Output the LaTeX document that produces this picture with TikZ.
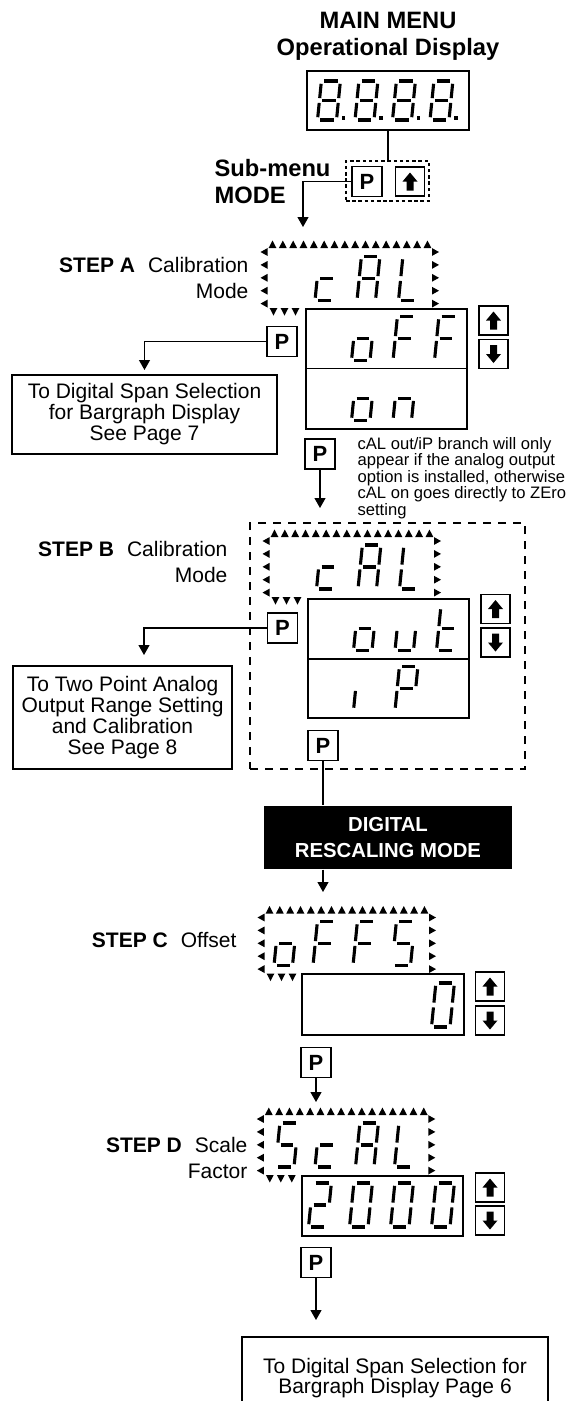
\documentclass[tikz,border=0pt]{standalone}
\usepackage{fontspec}
\setmainfont{Liberation Sans}
\usetikzlibrary{arrows.meta}
\newcommand{\sH}{44}
\newcommand{\sW}{18.5}
\newcommand{\Sega}{\draw[segl] (2.8,-\sH) -- (\sW-2.8,-\sH);}
\newcommand{\Segb}{\draw[segl] (\sW,-\sH+2.8) -- (\sW,-\sH/2-2.4);}
\newcommand{\Segc}{\draw[segl] (\sW,-\sH/2+2.4) -- (\sW,-2.8);}
\newcommand{\Segd}{\draw[segl] (2.8,0) -- (\sW-2.8,0);}
\newcommand{\Sege}{\draw[segl] (0,-\sH/2+2.4) -- (0,-2.8);}
\newcommand{\Segf}{\draw[segl] (0,-\sH+2.8) -- (0,-\sH/2-2.4);}
\newcommand{\Segg}{\draw[segl] (2.8,-\sH/2) -- (\sW-2.8,-\sH/2);}
\newcommand{\ssd}[3]{\begin{scope}[shift={(#1,#2)},xslant=0.1]\foreach \s in {#3}{\csname Seg\s\endcsname}\end{scope}}
\newcommand{\flashbox}[2]{%
 \foreach \i in {0,...,15}{\fill ({#1+4.5+10.33*\i-3.9},{#2+0.5}) -- ({#1+4.5+10.33*\i+3.9},{#2+0.5}) -- ({#1+4.5+10.33*\i},{#2-7}) -- cycle;}
 \foreach \j in {0,...,4}{\fill ({#1-0.5},{#2+4.5+12.9*\j-3.9}) -- ({#1-0.5},{#2+4.5+12.9*\j+3.9}) -- ({#1-7.5},{#2+4.5+12.9*\j}) -- cycle;
   \fill ({#1+164},{#2+4.5+12.9*\j-3.9}) -- ({#1+164},{#2+4.5+12.9*\j+3.9}) -- ({#1+171},{#2+4.5+12.9*\j}) -- cycle;}
 \foreach \k in {0,1,2}{\fill ({#1+5.5+11*\k-3.9},{#2+60.5}) -- ({#1+5.5+11*\k+3.9},{#2+60.5}) -- ({#1+5.5+11*\k},{#2+68}) -- cycle;}
}
\newcommand{\dpt}[2]{\fill ({#1-1.8},{#2-1.8}) rectangle ({#1+1.8},{#2+1.8});}
\begin{document}
\begin{tikzpicture}[x=1pt,y=-1pt,line width=1.2pt,
 box/.style={draw,rectangle,inner sep=0pt,line width=1.2pt},
 dbox/.style={box,dash pattern=on 3.5pt off 2.7pt},
 dbox2/.style={box,dash pattern=on 8pt off 7pt},
 pbtn/.style={box,minimum width=30pt,minimum height=30pt,font=\fontsize{22}{22}\selectfont\bfseries},
 upbtn/.style={box,minimum width=29pt,minimum height=29pt,path picture={\begin{scope}[shift={(path picture bounding box.center)}]\fill (-7.5,0) -- (0,-9) -- (7.5,0) -- (3.5,0) -- (3.5,9) -- (-3.5,9) -- (-3.5,0) -- cycle;\end{scope}}},
 dnbtn/.style={box,minimum width=29pt,minimum height=29pt,path picture={\begin{scope}[shift={(path picture bounding box.center)}]\fill (-7.5,0) -- (0,9) -- (7.5,0) -- (3.5,0) -- (3.5,-9) -- (-3.5,-9) -- (-3.5,0) -- cycle;\end{scope}}},
 segl/.style={line width=3.1pt},
 arr/.style={-{Triangle[width=11pt,length=10pt]}},
 tbox/.style={box,align=center,font=\fontsize{21}{21}\selectfont},
 lbl/.style={inner sep=0pt,font=\fontsize{21}{26}\selectfont}]
\useasboundingbox (0,0) rectangle (571,1401);
% ---------- main menu
\node[inner sep=0pt,align=center,font=\fontsize{23.7}{27.7}\selectfont\bfseries] (title) at (388,36.2) {MAIN MENU\\Operational Display};
\node[box,minimum width=162pt,minimum height=59pt] (main) at (388,100.5) {};
\begin{scope}
\renewcommand{\sH}{39}\renewcommand{\sW}{19}
\ssd{317.5}{120}{a,b,c,d,e,f,g}\dpt{343.3}{118}
\ssd{355}{120}{a,b,c,d,e,f,g}\dpt{380.8}{118}
\ssd{392.5}{120}{a,b,c,d,e,f,g}\dpt{418.3}{118}
\ssd{430}{120}{a,b,c,d,e,f,g}\dpt{455.8}{118}
\end{scope}
\node[dbox,minimum width=83pt,minimum height=40pt] (sm) at (387.5,181) {};
\node[pbtn] (P0) at (367,181.5) {P};
\node[upbtn] (U0) at (410,181.5) {};
\node[inner sep=0pt,anchor=west,align=left,font=\fontsize{23.7}{27}\selectfont\bfseries] (sub) at (214,181.5) {Sub-menu\\MODE};
\coordinate (tA) at (303,227);
\draw (main.south) -- (main.south |- sm.north);
\draw[arr] (P0.west) -| (tA);
% ---------- STEP A
\node[lbl,anchor=east,align=right] (labA) at (249,278.3) {\textbf{STEP A}\hspace{13pt}Calibration\\Mode};
\flashbox{268}{247.5}
\ssd{315}{300.5}{d,e,g}\ssd{357}{300.5}{a,b,c,e,f,g}\ssd{398.5}{300.5}{d,e,f}
\node[box,minimum width=161pt,minimum height=59.5pt] (dA1) at (386.5,338.75) {};
\node[box,minimum width=161pt,minimum height=60.5pt] (dA2) at (386.5,398.75) {};
\ssd{351.5}{360.5}{c,d,e,g}\ssd{393}{360.5}{a,e,f,g}\ssd{434.5}{360.5}{a,e,f,g}
\ssd{351.5}{420.5}{c,d,e,g}\ssd{393}{420.5}{c,e,g}
\node[upbtn] (UA) at (493.5,320.5) {};
\node[dnbtn] (DA) at (493.5,354) {};
\node[pbtn] (PA1) at (282,341.5) {P};
\node[tbox,minimum width=265pt,minimum height=79pt] (toA) at (144.5,414.5) {To Digital Span Selection\\for Bargraph Display\\See Page 7};
\coordinate (tA1) at (144.5,370);
\draw[arr] (PA1.west) -| (tA1);
\node[inner sep=0pt,anchor=west,align=left,font=\fontsize{16.6}{14.6}\selectfont] (note) at (357,477.8) {cAL out/iP branch will only\\appear if the analog output\\option is installed, otherwise\\cAL on goes directly to ZEro\\setting};
\node[pbtn] (PA2) at (320,454) {P};
\coordinate (tA2) at (320,508);
\draw[arr] (PA2.south) -- (tA2);
% ---------- STEP B
\node[dbox2,minimum width=275pt,minimum height=246pt] (dB) at (387.5,646) {};
\node[lbl,anchor=east,align=right] (labB) at (228,562.2) {\textbf{STEP B}\hspace{13pt}Calibration\\Mode};
\flashbox{270}{536.5}
\ssd{316.5}{589}{d,e,g}\ssd{358}{589}{a,b,c,e,f,g}\ssd{399.5}{589}{d,e,f}
\node[box,minimum width=161pt,minimum height=60pt] (dB1) at (388.5,629) {};
\node[box,minimum width=161pt,minimum height=59pt] (dB2) at (388.5,688.5) {};
\ssd{353.5}{650.5}{c,d,e,g}\ssd{395}{650.5}{c,d,e}\ssd{436.5}{650.5}{d,e,f,g}
\ssd{353.5}{710.5}{e}\ssd{395}{710.5}{a,b,e,f,g}
\node[upbtn] (UB) at (495.5,609) {};
\node[dnbtn] (DB) at (495.5,642.5) {};
\node[pbtn] (PB1) at (282.5,628) {P};
\node[tbox,minimum width=219pt,minimum height=103pt] (toB) at (122.5,717.5) {To Two Point Analog\\Output Range Setting\\and Calibration\\See Page 8};
\coordinate (tB1) at (144,655);
\draw[arr] (PB1.west) -| (tB1);
\node[pbtn] (PB2) at (323,745.5) {P};
\node[fill=black,text=white,inner sep=0pt,align=center,minimum width=248pt,minimum height=63pt,font=\fontsize{20.3}{25}\selectfont\bfseries] (blk) at (388,837.5) {DIGITAL\\RESCALING MODE};
\draw (PB2.south) -- (PB2.south |- blk.north);
\coordinate (tB3) at (323,892);
\draw[arr] (PB2.south |- blk.south) -- (tB3);
% ---------- STEP C
\node[lbl,anchor=base east] (labC) at (237,947) {\textbf{STEP C}\hspace{13pt}Offset};
\flashbox{265}{913}
\ssd{274}{965.5}{c,d,e,g}\ssd{313}{965.5}{a,e,f,g}\ssd{353}{965.5}{a,e,f,g}\ssd{392}{965.5}{a,c,d,f,g}
\node[box,minimum width=162pt,minimum height=61pt] (dC) at (383,1004.5) {};
\ssd{431.5}{1027}{a,b,c,d,e,f}
\node[upbtn] (UC) at (490,986.5) {};
\node[dnbtn] (DC) at (490,1020.5) {};
\node[pbtn] (PC) at (316,1062.5) {P};
\coordinate (tC) at (316,1102);
\draw[arr] (PC.south) -- (tC);
% ---------- STEP D
\node[lbl,anchor=east,align=right] (labD) at (248,1157.5) {\textbf{STEP D}\hspace{13pt}Scale\\Factor};
\flashbox{264.3}{1114.5}
\ssd{275.5}{1167}{a,c,d,f,g}\ssd{315}{1167}{d,e,g}\ssd{355.5}{1167}{a,b,c,e,f,g}\ssd{394.5}{1167}{d,e,f}
\node[box,minimum width=161pt,minimum height=60pt] (dD) at (382.5,1206) {};
\ssd{308.5}{1227}{a,b,d,e,g}\ssd{349.5}{1227}{a,b,c,d,e,f}\ssd{390.5}{1227}{a,b,c,d,e,f}\ssd{431.5}{1227}{a,b,c,d,e,f}
\node[upbtn] (UD) at (490,1187.5) {};
\node[dnbtn] (DD) at (490,1220.5) {};
\node[pbtn] (PD) at (316,1262.5) {P};
\coordinate (tD) at (316,1320);
\draw[arr] (PD.south) -- (tD);
\node[box,line width=2.3pt,align=center,minimum width=306pt,minimum height=82pt,font=\fontsize{21}{20}\selectfont] (fin) at (395,1378) {To Digital Span Selection for\\Bargraph Display Page 6};
\end{tikzpicture}
\end{document}
